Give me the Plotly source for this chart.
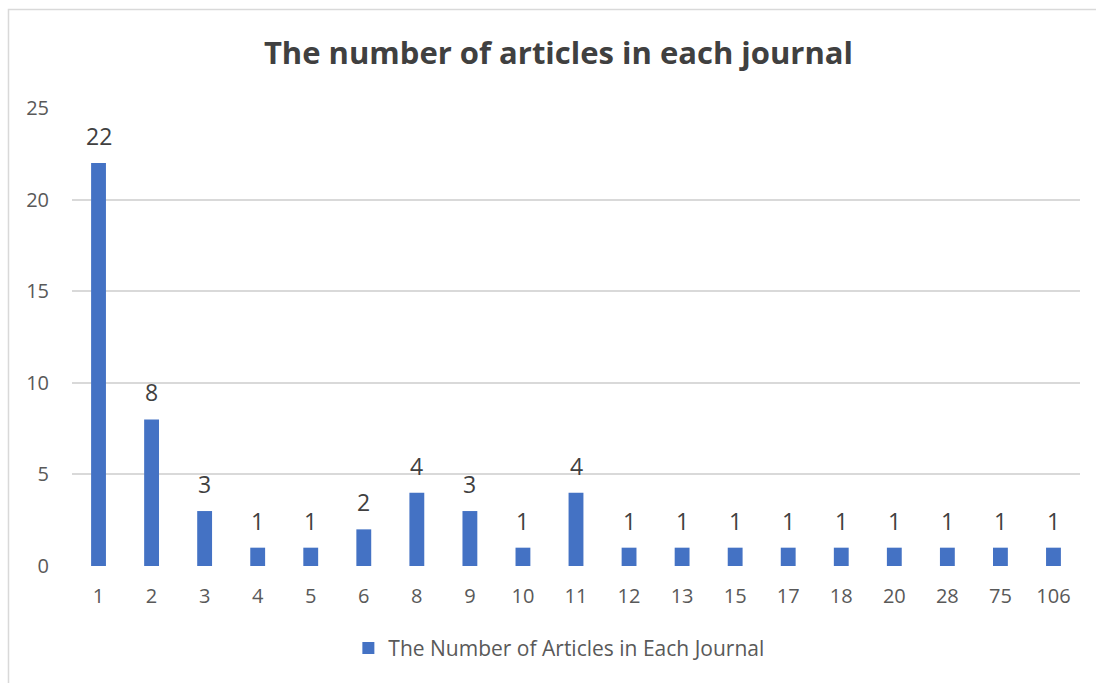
import plotly.graph_objects as go

# Number of journals grouped by how many articles each published
categories = ["1", "2", "3", "4", "5", "6", "8", "9", "10", "11",
              "12", "13", "15", "17", "18", "20", "28", "75", "106"]
counts = [22, 8, 3, 1, 1, 2, 4, 3, 1, 4, 1, 1, 1, 1, 1, 1, 1, 1, 1]

series_name = "The Number of Articles in Each Journal"
title_text = "The number of articles in each journal"
y_ticks = [0, 5, 10, 15, 20, 25]

bar_color = "#4472C4"
font_family = "Open Sans, sans-serif"

fig = go.Figure()
fig.add_trace(go.Bar(
    x=categories,
    y=counts,
    name=series_name,
    marker=dict(color=bar_color, line=dict(width=0)),
    showlegend=True,
))

# value labels above each bar (positioned by category index)
for i, v in enumerate(counts):
    fig.add_annotation(
        x=i, y=v, text=str(v), showarrow=False,
        yanchor="bottom", yshift=9,
        font=dict(family=font_family, size=23, color="#404040"),
    )

# light outline around the chart area
fig.add_shape(
    type="rect", xref="paper", yref="paper",
    x0=-0.063, x1=1.2, y0=-0.5, y1=1.215,
    line=dict(color="#D9D9D9", width=1.5), fillcolor="rgba(0,0,0,0)",
)

fig.update_layout(
    width=1096, height=683,
    margin=dict(l=72, r=16, t=108, b=117),
    paper_bgcolor="white", plot_bgcolor="white",
    bargap=0.72,
    title=dict(
        text=f"<b>{title_text}</b>",
        x=0.4826, xanchor="center", xref="paper",
        y=1 - 53 / 683, yanchor="middle",
        font=dict(family=font_family, size=31, color="#404040"),
    ),
    legend=dict(
        orientation="h", x=0.483, xanchor="center",
        y=-0.18, yanchor="middle",
        font=dict(family=font_family, size=21, color="#595959"),
        itemwidth=30,
    ),
    xaxis=dict(
        type="category", range=[-0.5, len(categories) - 0.5],
        showgrid=False, zeroline=False,
        showline=False, ticks="", ticklabelstandoff=16,
        tickfont=dict(family=font_family, size=20, color="#595959"),
    ),
    yaxis=dict(
        range=[0, 25], tickvals=y_ticks, showgrid=True,
        gridcolor="#D9D9D9", gridwidth=1.5, zeroline=False,
        showline=False, ticks="", ticklabelstandoff=22,
        tickfont=dict(family=font_family, size=20, color="#595959"),
    ),
)

fig.write_html("out.html")
